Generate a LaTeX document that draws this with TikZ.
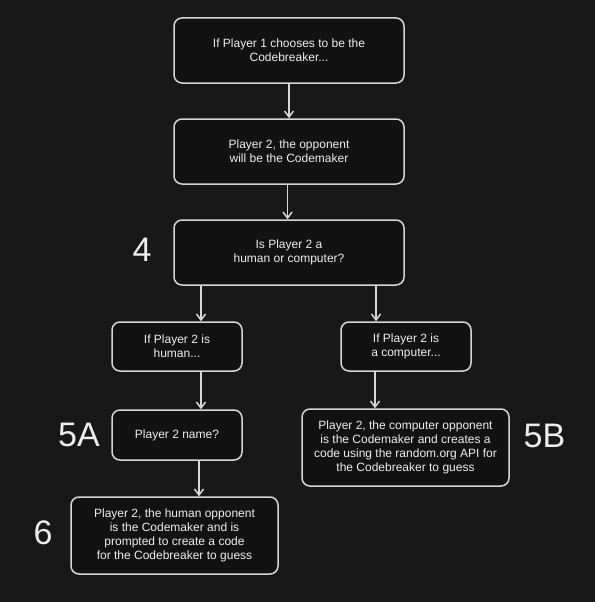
\documentclass[tikz,border=0pt]{standalone}
\usepackage{fontspec}
\setmainfont{Liberation Sans}
\usetikzlibrary{arrows.meta, positioning, calc}

\begin{document}
\begin{tikzpicture}[x=1pt, y=-1pt,
    box/.style={rectangle, rounded corners=8pt, draw=linecolor, line width=1.5pt, fill=boxcolor, text=textcolor, align=center, inner sep=0pt, font=\fontsize{12}{14}\selectfont},
    arr/.style={-{Straight Barb[length=6pt, width=9pt]}, draw=linecolor, line width=1.5pt},
    steplabel/.style={text=textcolor, font=\fontsize{34}{34}\selectfont}]
  % Define colors for the dark theme
  \definecolor{bgcolor}{RGB}{24,24,24}      % Page
  \definecolor{boxcolor}{RGB}{18,18,18}     % Box fill
  \definecolor{linecolor}{RGB}{214,214,214} % Borders and arrows
  \definecolor{textcolor}{RGB}{238,238,238} % Text

  % Background
  \fill[bgcolor] (0,0) rectangle (595,602);
  \useasboundingbox (0,0) rectangle (595,602);

  % Main column
  \node[box, minimum width=230pt, minimum height=65pt] (choose) at (289,50.5) {If Player 1 chooses to be the\\Codebreaker...};
  \node[box, minimum width=230pt, minimum height=65pt] (opp) at (289,151.5) {Player 2, the opponent\\will be the Codemaker};
  \node[box, minimum width=230pt, minimum height=65pt] (ask) at (289,252.5) {Is Player 2 a\\human or computer?};

  % Human branch
  \node[box, minimum width=130pt, minimum height=49pt] (human) at (177,346.5) {If Player 2 is\\human...};
  \node[box, minimum width=130pt, minimum height=50pt] (name) at (177,435) {Player 2 name?};
  \node[box, minimum width=207pt, minimum height=77pt] (hmaker) at (174.5,535.5) {Player 2, the human opponent\\is the Codemaker and is\\prompted to create a code\\for the Codebreaker to guess};

  % Computer branch
  \node[box, minimum width=130pt, minimum height=49pt] (comp) at (406,346.5) {If Player 2 is\\a computer...};
  \node[box, minimum width=207pt, minimum height=77pt] (cmaker) at (405.5,447.5) {Player 2, the computer opponent\\is the Codemaker and creates a\\code using the random.org API for\\the Codebreaker to guess};

  % Step numbers
  \node[steplabel] (s4) at (142,250) {4};
  \node[steplabel] (s5a) at (79,435) {5A};
  \node[steplabel] (s5b) at (544.5,435.5) {5B};
  \node[steplabel] (s6) at (43,533) {6};

  % Arrows between boxes
  \draw[arr] (choose.south) -- (opp.north);
  \draw[arr] ([xshift=-1.5pt]opp.south) -- ([xshift=-1.5pt]ask.north);
  \draw[arr] ([xshift=24pt]human.north |- ask.south) -- ([xshift=24pt]human.north);
  \draw[arr] ([xshift=-30pt]comp.north |- ask.south) -- ([xshift=-30pt]comp.north);
  \draw[arr] ([xshift=24pt]human.south) -- ([xshift=24pt]name.north);
  \draw[arr] ([xshift=-31pt]comp.south) -- ([xshift=-31pt]comp.south |- cmaker.north);
  \draw[arr] ([xshift=22pt]name.south) -- ([xshift=22pt]name.south |- hmaker.north);
\end{tikzpicture}
\end{document}
